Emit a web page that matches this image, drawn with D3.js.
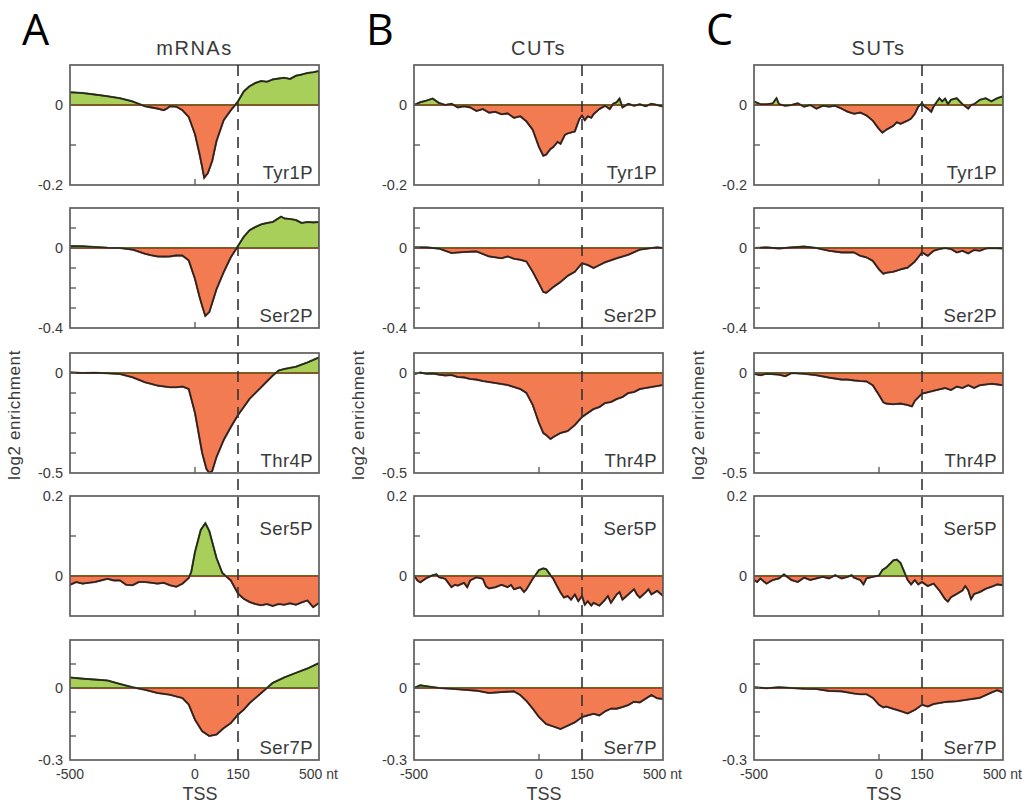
<!DOCTYPE html>
<html>
<head>
<meta charset="utf-8">
<script src="https://cdn.jsdelivr.net/npm/d3@7"></script>
<style>
  html, body { margin: 0; padding: 0; background: #ffffff; }
  svg { display: block; }
</style>
</head>
<body>
<svg id="chart" width="1033" height="805"></svg>
<script>
// ---------------- DATA ----------------
const panelLetters = ["A", "B", "C"];
const columnTitles = ["mRNAs", "CUTs", "SUTs"];
const rowLabels = ["Tyr1P", "Ser2P", "Thr4P", "Ser5P", "Ser7P"];
const yDomains = [[-0.2, 0.1], [-0.4, 0.2], [-0.5, 0.1], [-0.1, 0.2], [-0.3, 0.2]];
const yTickLabels = [["0", "-0.2"], ["0", "-0.4"], ["0", "-0.5"], ["0.2", "0"], ["0", "-0.3"]];
const xBreaks = [-500, 0, 150, 500];
const xTickLabels = ["-500", "0", "150", "500 nt"];

// [position (nt from TSS), log2 enrichment]
const A_Tyr1P = [[-500,0.032],[-450,0.03],[-400,0.026],[-350,0.022],[-300,0.017],[-250,0.009],[-200,-0.003],[-175,-0.006],[-150,-0.009],[-125,-0.013],[-110,-0.008],[-100,-0.003],[-75,-0.004],[-50,-0.013],[-25,-0.03],[0,-0.073],[15,-0.12],[25,-0.155],[32,-0.182],[45,-0.17],[60,-0.14],[75,-0.09],[100,-0.038],[125,-0.013],[140,0],[150,0.009],[175,0.034],[200,0.047],[225,0.055],[250,0.06],[275,0.058],[300,0.064],[325,0.066],[350,0.068],[375,0.065],[400,0.073],[425,0.076],[450,0.08],[475,0.082],[500,0.085]];
const A_Ser2P = [[-500,0.01],[-450,0.009],[-400,0.005],[-350,0.001],[-300,0],[-250,-0.008],[-200,-0.029],[-175,-0.036],[-150,-0.042],[-125,-0.043],[-100,-0.042],[-75,-0.037],[-50,-0.038],[-25,-0.062],[0,-0.155],[15,-0.24],[25,-0.29],[36,-0.34],[50,-0.32],[75,-0.206],[100,-0.121],[125,-0.046],[150,0.01],[175,0.056],[200,0.089],[225,0.105],[250,0.118],[275,0.125],[300,0.13],[336,0.157],[350,0.148],[375,0.145],[400,0.14],[425,0.125],[450,0.13],[475,0.128],[500,0.13]];
const A_Thr4P = [[-500,0.003],[-450,0],[-400,0.001],[-350,-0.001],[-300,-0.005],[-250,-0.021],[-200,-0.046],[-150,-0.063],[-100,-0.071],[-75,-0.071],[-50,-0.068],[-25,-0.08],[0,-0.2],[25,-0.4],[40,-0.48],[50,-0.5],[60,-0.49],[75,-0.42],[100,-0.335],[125,-0.27],[150,-0.21],[175,-0.17],[200,-0.129],[250,-0.071],[300,-0.013],[325,0.012],[350,0.02],[400,0.031],[450,0.053],[500,0.078]];
const A_Ser5P = [[-500,-0.022],[-475,-0.015],[-450,-0.019],[-425,-0.017],[-400,-0.015],[-375,-0.011],[-350,-0.007],[-325,-0.011],[-300,-0.011],[-275,-0.022],[-250,-0.023],[-225,-0.015],[-200,-0.015],[-175,-0.017],[-150,-0.019],[-125,-0.017],[-100,-0.023],[-75,-0.027],[-50,-0.019],[-25,-0.005],[-15,0.01],[0,0.06],[20,0.115],[36,0.132],[50,0.112],[75,0.045],[95,0.008],[107,0],[125,-0.011],[150,-0.044],[175,-0.057],[200,-0.065],[225,-0.07],[250,-0.073],[275,-0.07],[300,-0.075],[325,-0.07],[350,-0.072],[375,-0.068],[400,-0.072],[425,-0.066],[450,-0.061],[475,-0.078],[500,-0.067]];
const A_Ser7P = [[-500,0.044],[-450,0.039],[-400,0.035],[-350,0.031],[-300,0.017],[-250,0.003],[-200,-0.007],[-150,-0.021],[-100,-0.028],[-75,-0.035],[-50,-0.042],[-25,-0.069],[0,-0.132],[25,-0.18],[50,-0.2],[75,-0.194],[100,-0.167],[125,-0.146],[150,-0.111],[175,-0.09],[200,-0.063],[250,-0.021],[275,0],[300,0.021],[350,0.044],[400,0.063],[450,0.081],[500,0.104]];

const B_Tyr1P = [[-500,0],[-475,0.007],[-450,0.011],[-425,0.016],[-400,0.005],[-375,0],[-350,0.003],[-325,-0.006],[-300,-0.003],[-275,-0.006],[-250,-0.015],[-225,-0.01],[-200,-0.019],[-175,-0.017],[-150,-0.023],[-125,-0.021],[-100,-0.032],[-75,-0.028],[-50,-0.041],[-25,-0.062],[0,-0.105],[15,-0.127],[25,-0.124],[40,-0.11],[50,-0.105],[65,-0.092],[75,-0.097],[90,-0.075],[100,-0.071],[125,-0.066],[140,-0.036],[150,-0.026],[162,-0.038],[175,-0.028],[190,-0.032],[200,-0.023],[225,-0.01],[250,-0.002],[270,-0.01],[285,0.003],[300,0.007],[312,0.016],[325,-0.006],[350,0.003],[375,-0.002],[400,0.002],[425,-0.003],[450,0.003],[475,0],[500,-0.004]];
const B_Ser2P = [[-500,0.003],[-450,0.003],[-400,-0.003],[-350,-0.025],[-300,-0.02],[-250,-0.017],[-200,-0.042],[-150,-0.051],[-125,-0.042],[-100,-0.054],[-75,-0.059],[-50,-0.068],[-25,-0.119],[0,-0.178],[15,-0.22],[25,-0.224],[50,-0.195],[75,-0.17],[100,-0.139],[125,-0.119],[150,-0.076],[175,-0.085],[200,-0.1],[212,-0.093],[250,-0.071],[300,-0.051],[350,-0.034],[400,-0.008],[450,0],[475,0.003],[500,0]];
const B_Thr4P = [[-500,-0.005],[-475,0.002],[-450,-0.004],[-425,-0.002],[-400,-0.008],[-375,-0.012],[-350,-0.01],[-325,-0.02],[-300,-0.022],[-275,-0.03],[-250,-0.033],[-225,-0.04],[-200,-0.045],[-175,-0.05],[-150,-0.055],[-125,-0.06],[-100,-0.07],[-75,-0.08],[-50,-0.1],[-25,-0.16],[0,-0.25],[15,-0.3],[25,-0.31],[40,-0.33],[50,-0.32],[75,-0.3],[100,-0.29],[125,-0.26],[150,-0.22],[175,-0.2],[200,-0.18],[225,-0.17],[250,-0.15],[275,-0.145],[300,-0.13],[325,-0.12],[350,-0.1],[375,-0.095],[400,-0.08],[425,-0.075],[450,-0.07],[475,-0.065],[500,-0.06]];
const B_Ser5P = [[-500,0.002],[-487,-0.011],[-475,-0.016],[-450,-0.005],[-425,0.002],[-410,0.004],[-400,-0.003],[-375,-0.007],[-350,-0.028],[-337,-0.022],[-325,-0.024],[-300,-0.017],[-287,-0.028],[-275,-0.011],[-250,-0.003],[-225,-0.007],[-212,-0.026],[-200,-0.031],[-175,-0.028],[-150,-0.022],[-125,-0.028],[-112,-0.022],[-100,-0.033],[-75,-0.028],[-60,-0.04],[-50,-0.033],[-25,-0.007],[-10,0.006],[0,0.015],[15,0.019],[25,0.017],[40,0.002],[50,-0.007],[62,-0.024],[75,-0.041],[87,-0.054],[100,-0.05],[112,-0.059],[125,-0.046],[137,-0.063],[150,-0.05],[162,-0.072],[175,-0.063],[190,-0.074],[200,-0.067],[225,-0.074],[250,-0.059],[262,-0.05],[275,-0.067],[300,-0.046],[312,-0.04],[325,-0.059],[350,-0.046],[375,-0.033],[387,-0.046],[400,-0.054],[425,-0.041],[437,-0.033],[450,-0.046],[475,-0.037],[500,-0.05]];
const B_Ser7P = [[-500,0],[-475,0.011],[-450,0.007],[-400,0],[-350,-0.003],[-300,-0.007],[-250,-0.011],[-200,-0.021],[-150,-0.017],[-100,-0.014],[-75,-0.029],[-50,-0.054],[-25,-0.086],[0,-0.121],[25,-0.15],[50,-0.16],[75,-0.171],[100,-0.157],[125,-0.143],[150,-0.121],[175,-0.114],[200,-0.107],[225,-0.114],[250,-0.097],[275,-0.086],[300,-0.086],[325,-0.079],[350,-0.071],[375,-0.057],[400,-0.06],[450,-0.029],[475,-0.043],[500,-0.046]];

const C_Tyr1P = [[-500,0.009],[-475,0.002],[-450,0.002],[-425,0.004],[-410,0.017],[-400,0.002],[-375,-0.002],[-350,0],[-325,0.004],[-300,-0.004],[-275,0],[-250,-0.009],[-225,-0.002],[-200,-0.004],[-175,-0.002],[-150,-0.009],[-125,-0.017],[-100,-0.022],[-75,-0.019],[-50,-0.026],[-25,-0.039],[0,-0.06],[12,-0.069],[25,-0.062],[50,-0.052],[62,-0.043],[75,-0.047],[100,-0.039],[112,-0.034],[125,-0.022],[137,-0.004],[150,0.004],[162,-0.004],[175,-0.009],[190,-0.017],[200,-0.004],[225,0.017],[237,0.009],[250,0.016],[262,0.002],[275,0.013],[300,0.017],[325,0.002],[350,-0.009],[362,0],[375,0.002],[400,0.013],[425,0.017],[450,0.009],[475,0.017],[500,0.022]];
const C_Ser2P = [[-500,0],[-450,0.003],[-400,-0.002],[-350,0.003],[-300,0.007],[-250,0],[-200,-0.014],[-150,-0.022],[-100,-0.022],[-75,-0.039],[-50,-0.047],[-25,-0.064],[0,-0.107],[15,-0.129],[25,-0.124],[50,-0.119],[75,-0.107],[100,-0.098],[125,-0.068],[150,-0.022],[175,-0.039],[200,-0.014],[225,-0.005],[250,0],[275,-0.005],[300,-0.022],[325,-0.014],[350,-0.027],[375,-0.01],[400,-0.014],[425,-0.002],[450,0],[500,-0.002]];
const C_Thr4P = [[-500,-0.004],[-475,-0.011],[-450,-0.004],[-400,-0.008],[-375,-0.016],[-350,0],[-300,-0.004],[-250,-0.011],[-200,-0.023],[-175,-0.028],[-150,-0.033],[-125,-0.033],[-100,-0.037],[-75,-0.04],[-50,-0.042],[-25,-0.061],[0,-0.11],[15,-0.146],[25,-0.153],[50,-0.156],[75,-0.153],[100,-0.16],[115,-0.167],[125,-0.139],[150,-0.103],[175,-0.096],[200,-0.089],[225,-0.082],[250,-0.075],[275,-0.085],[300,-0.068],[325,-0.075],[350,-0.061],[375,-0.075],[400,-0.061],[450,-0.054],[475,-0.057],[500,-0.061]];
const C_Ser5P = [[-500,-0.01],[-487,-0.015],[-475,-0.006],[-450,-0.019],[-425,-0.01],[-400,-0.006],[-380,0.004],[-350,-0.01],[-325,-0.015],[-300,-0.004],[-275,-0.01],[-250,-0.006],[-225,-0.002],[-200,-0.006],[-175,0.002],[-150,-0.006],[-125,-0.002],[-110,0.002],[-100,-0.004],[-75,-0.01],[-62,-0.021],[-50,-0.006],[-25,-0.002],[0,0.001],[12,0.015],[25,0.021],[50,0.039],[62,0.041],[75,0.033],[90,0.007],[100,-0.01],[112,-0.021],[125,-0.01],[137,-0.021],[150,-0.015],[175,-0.025],[200,-0.019],[225,-0.036],[250,-0.058],[262,-0.064],[275,-0.053],[300,-0.045],[325,-0.036],[337,-0.025],[350,-0.036],[362,-0.058],[375,-0.045],[400,-0.04],[425,-0.032],[450,-0.027],[475,-0.021],[500,-0.023]];
const C_Ser7P = [[-500,0.003],[-450,-0.001],[-400,0.003],[-350,0],[-300,-0.003],[-250,-0.004],[-200,-0.012],[-150,-0.014],[-100,-0.023],[-75,-0.026],[-50,-0.026],[-25,-0.041],[0,-0.07],[15,-0.081],[25,-0.077],[50,-0.087],[75,-0.096],[100,-0.106],[125,-0.091],[150,-0.07],[175,-0.077],[200,-0.067],[250,-0.058],[300,-0.055],[350,-0.048],[400,-0.041],[450,-0.019],[475,-0.009],[500,-0.019]];

const seriesGrid = [
  [A_Tyr1P, A_Ser2P, A_Thr4P, A_Ser5P, A_Ser7P],
  [B_Tyr1P, B_Ser2P, B_Thr4P, B_Ser5P, B_Ser7P],
  [C_Tyr1P, C_Ser2P, C_Thr4P, C_Ser5P, C_Ser7P]
];

// ---------------- LAYOUT ----------------
const colLeft = [70, 414, 754];
const panelW = 249;
const rowTop = [65, 208, 353, 496, 640];
const panelH = 120;
const posColor = "#a9cf5b", negColor = "#f27b52";
const posEdge = "#55701f", negEdge = "#a8432a";
const textColor = "#3a3a3a";
const fontFam = "'Liberation Sans', Arial, Helvetica, sans-serif";

const svg = d3.select("#chart");

// x scale (relative to panel) — piecewise like the original figure axis
const x = d3.scaleLinear().domain(xBreaks).range([0, 125, 168, panelW]);

let clipId = 0;
seriesGrid.forEach((col, ci) => {
  const cg = svg.append("g").attr("transform", `translate(${colLeft[ci]},0)`);

  // panel letter
  svg.append("text")
    .attr("x", colLeft[ci] - 48).attr("y", 45)
    .attr("font-family", "'Open Sans', 'Noto Sans', sans-serif")
    .attr("font-size", 43).attr("fill", "#000")
    .text(panelLetters[ci]);

  // column title
  cg.append("text")
    .attr("x", panelW / 2).attr("y", 55)
    .attr("text-anchor", "middle")
    .attr("font-family", fontFam).attr("font-size", 20)
    .attr("letter-spacing", 1.5)
    .attr("fill", textColor)
    .text(columnTitles[ci]);

  // y axis title
  cg.append("text")
    .attr("transform", `translate(-50,415) rotate(-90)`)
    .attr("text-anchor", "middle")
    .attr("font-family", fontFam).attr("font-size", 17)
    .attr("letter-spacing", 0.6)
    .attr("fill", textColor)
    .text("log2 enrichment");

  col.forEach((data, ri) => {
    const g = cg.append("g").attr("transform", `translate(0,${rowTop[ri]})`);
    const y = d3.scaleLinear().domain(yDomains[ri]).range([panelH, 0]);
    const y0 = y(0);

    const idUp = "clipUp" + (clipId), idDn = "clipDn" + (clipId);
    clipId++;
    const defs = g.append("defs");
    defs.append("clipPath").attr("id", idUp)
      .append("rect").attr("x", 0).attr("y", -1).attr("width", panelW).attr("height", y0 + 1);
    defs.append("clipPath").attr("id", idDn)
      .append("rect").attr("x", 0).attr("y", y0).attr("width", panelW).attr("height", panelH - y0 + 1);

    const area = d3.area().x(d => x(d[0])).y0(y0).y1(d => y(d[1]));
    const line = d3.line().x(d => x(d[0])).y(d => y(d[1]));

    g.append("path").datum(data).attr("d", area)
      .attr("fill", posColor).attr("stroke", posEdge).attr("stroke-width", 2)
      .attr("clip-path", `url(#${idUp})`);
    g.append("path").datum(data).attr("d", area)
      .attr("fill", negColor).attr("stroke", negEdge).attr("stroke-width", 2)
      .attr("clip-path", `url(#${idDn})`);
    g.append("path").datum(data).attr("d", line)
      .attr("fill", "none").attr("stroke", "#262626").attr("stroke-width", 1.6)
      .attr("stroke-linejoin", "round");

    // frame
    g.append("rect").attr("x", 0).attr("y", 0).attr("width", panelW).attr("height", panelH)
      .attr("fill", "none").attr("stroke", "#5e5e5e").attr("stroke-width", 1.7);

    // inner y ticks every 0.1
    const [lo, hi] = yDomains[ri];
    const ticks = d3.range(Math.round(lo * 10) + 1, Math.round(hi * 10)).map(v => v / 10);
    g.selectAll(".yt").data(ticks).enter().append("line")
      .attr("x1", 0).attr("x2", 6)
      .attr("y1", d => y(d)).attr("y2", d => y(d))
      .attr("stroke", "#5e5e5e").attr("stroke-width", 1.4);

    // y labels
    g.selectAll(".yl").data(yTickLabels[ri]).enter().append("text")
      .attr("x", -7).attr("y", d => y(+d) + 5)
      .attr("text-anchor", "end")
      .attr("font-family", fontFam).attr("font-size", 14.5)
      .attr("fill", textColor)
      .text(d => d);

    // bottom tick at TSS
    g.append("line")
      .attr("x1", x(0)).attr("x2", x(0))
      .attr("y1", panelH).attr("y2", panelH - 6)
      .attr("stroke", "#5e5e5e").attr("stroke-width", 1.4);

    // row label
    const topLabel = rowLabels[ri] === "Ser5P";
    g.append("text")
      .attr("x", panelW - 6)
      .attr("y", topLabel ? 39 : panelH - 6)
      .attr("text-anchor", "end")
      .attr("font-family", fontFam).attr("font-size", 18.5)
      .attr("letter-spacing", 0.4)
      .attr("fill", textColor)
      .text(rowLabels[ri]);
  });

  // dashed line at +150
  cg.append("line")
    .attr("x1", x(150)).attr("x2", x(150))
    .attr("y1", rowTop[0]).attr("y2", rowTop[4] + panelH)
    .attr("stroke", "#333").attr("stroke-width", 1.6)
    .attr("stroke-dasharray", "11,7");

  // x tick labels
  const xl = cg.append("g").attr("transform", `translate(0,${rowTop[4] + panelH + 19})`);
  xBreaks.forEach((v, i) => {
    const last = i === xBreaks.length - 1;
    xl.append("text")
      .attr("x", last ? x(v) - 20 : x(v))
      .attr("y", 0)
      .attr("text-anchor", last ? "start" : "middle")
      .attr("font-family", fontFam).attr("font-size", 14)
      .attr("fill", textColor)
      .text(xTickLabels[i]);
  });
  cg.append("text")
    .attr("x", x(0) + 5).attr("y", rowTop[4] + panelH + 40)
    .attr("text-anchor", "middle")
    .attr("font-family", fontFam).attr("font-size", 18)
    .attr("fill", textColor)
    .text("TSS");
});
</script>
</body>
</html>
